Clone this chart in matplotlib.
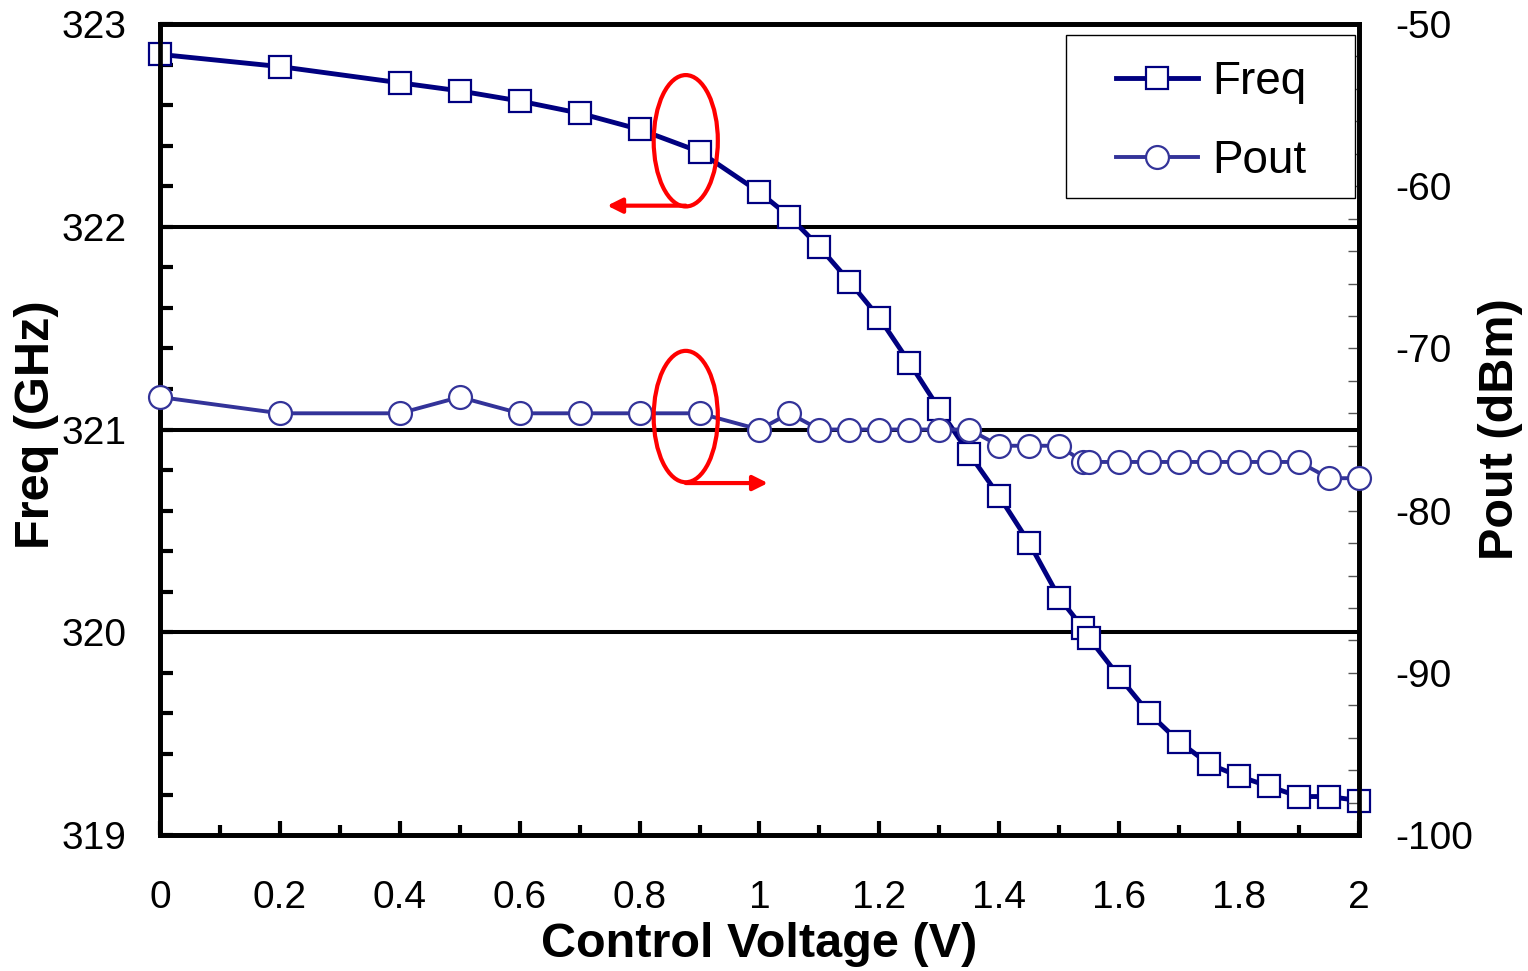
import matplotlib
matplotlib.use("Agg")
import matplotlib.pyplot as plt
from matplotlib.patches import Ellipse, Rectangle
from matplotlib.ticker import MultipleLocator, FuncFormatter

plt.rcParams['font.family'] = ['Liberation Sans', 'DejaVu Sans']
plt.rcParams['axes.unicode_minus'] = False

# ---------------- data ----------------
volt = [0, 0.2, 0.4, 0.5, 0.6, 0.7, 0.8, 0.9, 1.0, 1.05, 1.1, 1.15, 1.2, 1.25,
        1.3, 1.35, 1.4, 1.45, 1.5, 1.54, 1.55, 1.6, 1.65, 1.7, 1.75, 1.8, 1.85,
        1.9, 1.95, 2.0]
freq = [322.85, 322.79, 322.71, 322.67, 322.62, 322.56, 322.48, 322.37, 322.17,
        322.05, 321.90, 321.73, 321.55, 321.33, 321.10, 320.88, 320.67, 320.44,
        320.17, 320.02, 319.97, 319.78, 319.60, 319.46, 319.35, 319.29, 319.24,
        319.19, 319.19, 319.17]
pout = [-73, -74, -74, -73, -74, -74, -74, -74, -75, -74, -75, -75, -75, -75,
        -75, -75, -76, -76, -76, -77, -77, -77, -77, -77, -77, -77, -77, -77,
        -78, -78]

grid_freq = [320, 321, 322]
#--------------------------------------------------------------

fig = plt.figure(figsize=(15.28, 9.71), dpi=100)
ax = fig.add_axes([0.1047, 0.140, 0.7847, 0.8353])
ax2 = ax.twinx()

for g in grid_freq:
	ax.axhline(g, color="black", linewidth=2.9, zorder=1)

ax.plot(volt, freq, color="#000080", linewidth=3.5, marker="s", markersize=16.5,
        markerfacecolor="white", markeredgecolor="#000080", markeredgewidth=1.6,
        clip_on=False, zorder=3, label="Freq")
ax2.plot(volt, pout, color="#333399", linewidth=2.8, marker="o", markersize=16.5,
         markerfacecolor="white", markeredgecolor="#333399", markeredgewidth=1.6,
         clip_on=False, zorder=3, label="Pout")

ax.set_xlim(0, 2)
ax.set_ylim(319, 323)
ax2.set_ylim(-100, -50)

ax.xaxis.set_major_locator(MultipleLocator(0.2))
ax.xaxis.set_minor_locator(MultipleLocator(0.1))
ax.xaxis.set_major_formatter(FuncFormatter(lambda v, p: f"{v:g}"))
ax.yaxis.set_major_locator(MultipleLocator(1))
ax.yaxis.set_minor_locator(MultipleLocator(0.2))
ax2.yaxis.set_major_locator(MultipleLocator(10))
ax2.yaxis.set_minor_locator(MultipleLocator(2))
ax2.yaxis.set_major_formatter(FuncFormatter(lambda v, p: f"{v:g}"))

ax.tick_params(axis="x", which="major", direction="in", length=10, width=3,
               labelsize=28, pad=32, top=False)
ax.tick_params(axis="x", which="minor", direction="in", length=7, width=3, top=False)
ax.tick_params(axis="y", which="both", direction="in", length=9, width=3,
               labelsize=28, pad=24)
ax2.tick_params(axis="y", which="both", direction="in", length=8, width=1,
                color="#555555", labelsize=28, pad=26)

for a in (ax, ax2):
	for s in a.spines.values():
		s.set_linewidth(3.4)
		s.set_color("black")

ax.set_xlabel("Control Voltage (V)", fontsize=35, fontweight="bold")
ax.xaxis.set_label_coords(0.5, -0.135)
ax.xaxis.label.set_va("center")
ax.set_ylabel("Freq (GHz)", fontsize=35, fontweight="bold")
ax.yaxis.set_label_coords(-0.1026, 0.506)
ax.yaxis.label.set_va("center")
ax2.set_ylabel("Pout (dBm)", fontsize=35, fontweight="bold", rotation=90)
ax2.yaxis.set_label_coords(1.1176, 0.5)
ax2.yaxis.label.set_va("center")

# red annotations (dBm coordinates on the right axis)
ax2.add_patch(Ellipse((0.877, -57.2), 0.107, 8.1, fill=False, edgecolor="red",
                      linewidth=3, zorder=5))
ax2.add_patch(Ellipse((0.877, -74.2), 0.107, 8.1, fill=False, edgecolor="red",
                      linewidth=3, zorder=5))
ax2.annotate("", xy=(0.746, -61.2), xytext=(0.877, -61.2),
             arrowprops=dict(arrowstyle="-|>", color="red", lw=3, mutation_scale=22,
                             shrinkA=0, shrinkB=0), zorder=5)
ax2.annotate("", xy=(1.014, -78.3), xytext=(0.877, -78.3),
             arrowprops=dict(arrowstyle="-|>", color="red", lw=3, mutation_scale=22,
                             shrinkA=0, shrinkB=0), zorder=5)

# legend
h1, l1 = ax.get_legend_handles_labels()
h2, l2 = ax2.get_legend_handles_labels()
ax2.add_patch(Rectangle((0.756, 0.785), 0.241, 0.201, transform=ax2.transAxes,
                        fill=True, facecolor="white", edgecolor="black",
                        linewidth=1, zorder=6, clip_on=False))
leg = ax2.legend(h1 + h2, l1 + l2, loc="center", bbox_to_anchor=(0.8766, 0.880),
                 frameon=False, fontsize=33, handlelength=1.8, handletextpad=0.3,
                 labelspacing=0.77, borderpad=0)
leg.set_zorder(7)

plt.savefig("out.png", dpi=100)
